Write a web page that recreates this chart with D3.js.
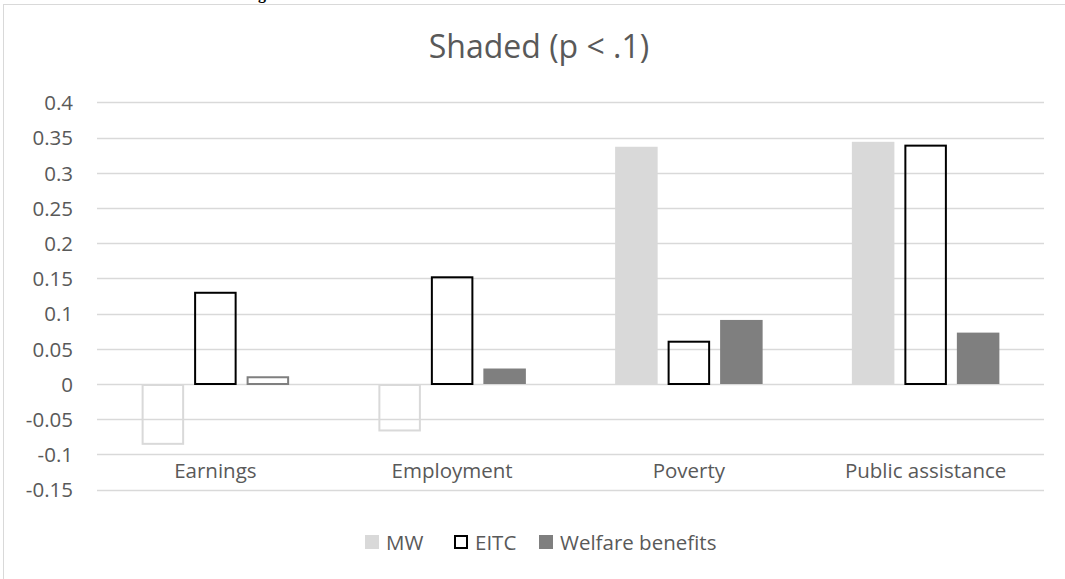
<!DOCTYPE html>
<html>
<head>
<meta charset="utf-8">
<script src="https://cdn.jsdelivr.net/npm/d3@7"></script>
<style>
  html, body { margin: 0; padding: 0; background: #fff; }
  svg { display: block; }
</style>
</head>
<body>
<svg id="chart" width="1065" height="579"></svg>
<script>
// Outcome categories along the x axis
const categories = ["Earnings", "Employment", "Poverty", "Public assistance"];
// Policy series
const series = ["MW", "EITC", "Welfare benefits"];
// Estimated effects per series, one value per category
const mwValues = [-0.085, -0.066, 0.337, 0.344];
const eitcValues = [0.131, 0.153, 0.0615, 0.340];
const welfareValues = [0.011, 0.022, 0.091, 0.073];
// Shaded = significant at p < .1
const mwShaded = [false, false, true, true];
const eitcShaded = [false, false, false, false];
const welfareShaded = [false, true, true, true];
// Y axis ticks
const yTicks = [-0.15, -0.1, -0.05, 0, 0.05, 0.1, 0.15, 0.2, 0.25, 0.3, 0.35, 0.4];

const svg = d3.select("#chart");
const plot = { left: 97, right: 1044, top: 102.4, bottom: 489.6 };

// Chart frame (extends beyond the visible area on the right and bottom)
svg.append("rect")
  .attr("x", 3.5).attr("y", 4.5)
  .attr("width", 1200).attr("height", 700)
  .attr("fill", "#fff").attr("stroke", "#d9d9d9").attr("stroke-width", 1);

// Heading above the frame (mostly clipped)
svg.append("text")
  .attr("x", 262).attr("y", -1.5)
  .attr("text-anchor", "middle")
  .attr("font-family", "Liberation Serif")
  .attr("font-weight", "bold")
  .attr("font-size", 16)
  .attr("fill", "#000")
  .text("g");

const y = d3.scaleLinear().domain([-0.15, 0.4]).range([plot.bottom, plot.top]);
const x0 = d3.scaleBand().domain(categories).range([plot.left, plot.right]).padding(0);
const x1 = d3.scaleBand().domain(series).range([0, x0.bandwidth()])
  .paddingInner(0.19).paddingOuter(0.85);

const textColor = "#595959";
const font = "'Open Sans', 'Noto Sans', sans-serif";
const labelSize = 20.5;

// Title
svg.append("text")
  .attr("x", 539).attr("y", 58)
  .attr("text-anchor", "middle")
  .attr("font-family", font)
  .attr("font-size", 32)
  .attr("fill", textColor)
  .text("Shaded (p < .1)");

// Gridlines
svg.append("g")
  .selectAll("line")
  .data(yTicks)
  .join("line")
  .attr("x1", plot.left).attr("x2", plot.right)
  .attr("y1", d => Math.round(y(d)) + 0.5)
  .attr("y2", d => Math.round(y(d)) + 0.5)
  .attr("stroke", "#d9d9d9").attr("stroke-width", 1.3);

// Y axis labels (plain hyphen for negatives)
const yAxis = d3.axisLeft(y).tickValues(yTicks).tickSize(0).tickPadding(0)
  .tickFormat(d => String(+d.toFixed(2)));
const yg = svg.append("g").attr("transform", `translate(73,0)`).call(yAxis);
yg.select(".domain").remove();
yg.selectAll("text")
  .attr("font-family", font).attr("font-size", labelSize)
  .attr("fill", textColor).attr("dy", "0.36em");

// Bars
const styles = {
  "MW": { fill: "#d9d9d9", stroke: "#d9d9d9" },
  "EITC": { fill: "#000", stroke: "#000" },
  "Welfare benefits": { fill: "#7f7f7f", stroke: "#7f7f7f" }
};
const valuesBySeries = {
  "MW": { v: mwValues, s: mwShaded },
  "EITC": { v: eitcValues, s: eitcShaded },
  "Welfare benefits": { v: welfareValues, s: welfareShaded }
};

const barData = [];
categories.forEach((c, i) => {
  series.forEach(s => {
    barData.push({ cat: c, ser: s, value: valuesBySeries[s].v[i], shaded: valuesBySeries[s].s[i] });
  });
});

svg.append("g")
  .selectAll("rect")
  .data(barData)
  .join("rect")
  .attr("x", d => x0(d.cat) + x1(d.ser) + (d.shaded ? 0 : 1))
  .attr("width", d => x1.bandwidth() - (d.shaded ? 0 : 2))
  .attr("y", d => Math.min(y(d.value), y(0)) + (d.shaded ? 0 : 1))
  .attr("height", d => Math.abs(y(d.value) - y(0)) - (d.shaded ? 0 : 1))
  .attr("fill", d => d.shaded ? styles[d.ser].fill : "none")
  .attr("stroke", d => d.shaded ? "none" : styles[d.ser].stroke)
  .attr("stroke-width", 2);

// Category labels
svg.append("g")
  .selectAll("text")
  .data(categories)
  .join("text")
  .attr("x", d => x0(d) + x0.bandwidth() / 2)
  .attr("y", 478)
  .attr("text-anchor", "middle")
  .attr("font-family", font).attr("font-size", labelSize)
  .attr("fill", textColor)
  .text(d => d);

// Legend
const legendItems = [
  { name: "MW", x: 365, fill: "#d9d9d9", stroke: "none" },
  { name: "EITC", x: 454, fill: "#fff", stroke: "#000" },
  { name: "Welfare benefits", x: 539, fill: "#7f7f7f", stroke: "none" }
];
const lg = svg.append("g").selectAll("g").data(legendItems).join("g");
lg.append("rect")
  .attr("x", d => d.stroke === "none" ? d.x : d.x + 1)
  .attr("y", d => d.stroke === "none" ? 535 : 536)
  .attr("width", d => d.stroke === "none" ? 14 : 12)
  .attr("height", d => d.stroke === "none" ? 14 : 12)
  .attr("fill", d => d.fill)
  .attr("stroke", d => d.stroke)
  .attr("stroke-width", 2);
lg.append("text")
  .attr("x", d => d.x + 21).attr("y", 549.5)
  .attr("font-family", font).attr("font-size", labelSize)
  .attr("fill", textColor)
  .text(d => d.name);
</script>
</body>
</html>
